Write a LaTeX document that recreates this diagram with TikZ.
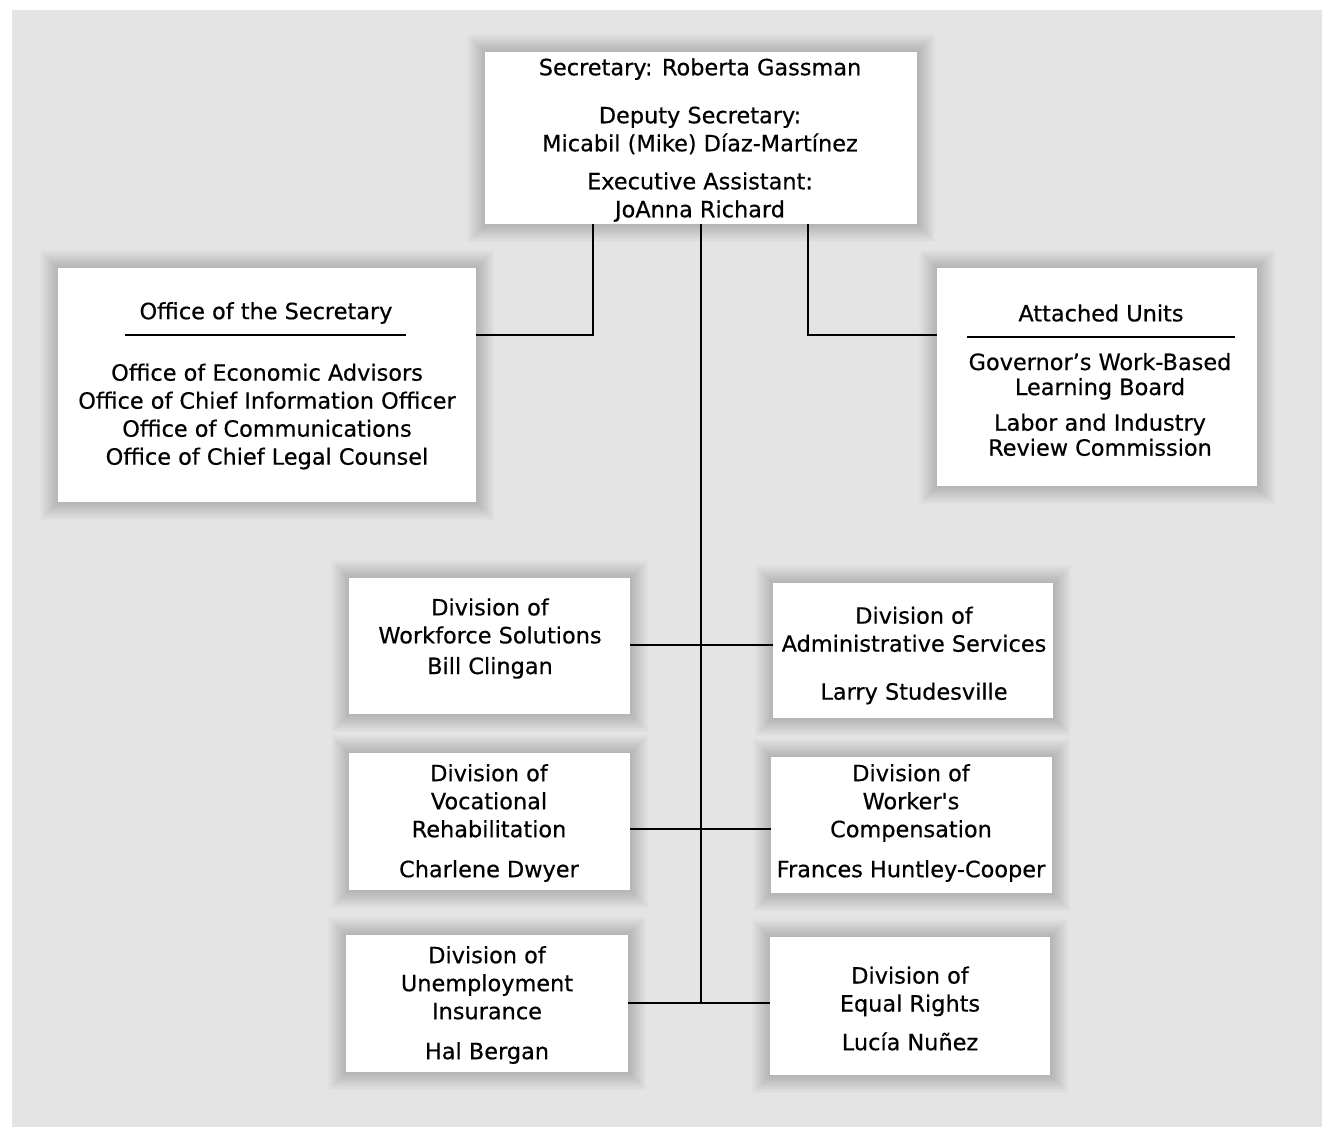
\documentclass[tikz,border=0pt]{standalone}
\usepackage{fontspec}
\setmainfont{DejaVu Sans}[FakeBold=0.5,Ligatures=TeXOff]
\definecolor{bg}{HTML}{E4E4E4}
\newcommand\orgbox[5]{%
  \foreach \k in {1,...,12}{\fill[black,opacity=0.016] (#2-\k*1.5,#3-\k*1.5) rectangle (#4+\k*1.5,#5+\k*1.5);}
  \node[box,minimum width={(#4-#2)*0.75pt},minimum height={(#5-#3)*0.75pt}] (#1) at (#2,#3) {};}
\begin{document}
\begin{tikzpicture}[x=0.75pt,y=-0.75pt,
  box/.style={draw=none,fill=white,inner sep=0pt,outer sep=0pt,anchor=north west},
  txt/.style={align=center,font=\fontsize{16.8}{21}\selectfont,inner sep=0pt},
  txtb/.style={align=center,font=\fontsize{16.8}{18.75}\selectfont,inner sep=0pt},
  wire/.style={line width=1.6pt,black},
  rulel/.style={line width=1.4pt,black}]
\useasboundingbox (0,0) rectangle (1335,1129);
\fill[white] (0,0) rectangle (1335,1129);
\fill[bg] (12,10) rectangle (1322,1127);

% boxes
\orgbox{top}{485}{52}{917}{224}
\orgbox{office}{58}{268}{476}{502}
\orgbox{attached}{937}{268}{1257}{486}
\orgbox{ws}{349}{578}{630}{714}
\orgbox{as}{773}{583}{1053}{718}
\orgbox{vr}{349}{753}{630}{890}
\orgbox{wc}{771}{757}{1052}{893}
\orgbox{ui}{346}{935}{628}{1072}
\orgbox{er}{770}{937}{1050}{1075}

% texts
\node[txt] (topT) at (700,140) {Secretary: Roberta Gassman\\[15pt]Deputy Secretary:\\Micabil (Mike) Díaz-Martínez\\[7.5pt]Executive Assistant:\\JoAnna Richard};
\node[txt] (officeH) at (266,313) {Office of the Secretary};
\draw[rulel] (125,335) -- (406,335);
\node[txt] (officeT) at (267,416.5) {Office of Economic Advisors\\Office of Chief Information Officer\\Office of Communications\\Office of Chief Legal Counsel};
\node[txt] (attachedH) at (1101,313) {Attached Units};
\draw[rulel] (967,337) -- (1235,337);
\node[txtb] (attachedT) at (1100,404.5) {Governor’s Work-Based\\Learning Board\\[8pt]Labor and Industry\\Review Commission};
\node[txt] (wsT) at (490,638.5) {Division of\\Workforce Solutions\\[2pt]Bill Clingan};
\node[txt] (asT) at (914,655.5) {Division of\\Administrative Services\\[15pt]Larry Studesville};
\node[txt] (vrT) at (489,823) {Division of\\Vocational\\Rehabilitation\\[9pt]Charlene Dwyer};
\node[txt] (wcT) at (911,823) {Division of\\Worker's\\Compensation\\[9pt]Frances Huntley-Cooper};
\node[txt] (uiT) at (487,1005) {Division of\\Unemployment\\Insurance\\[9pt]Hal Bergan};
\node[txt] (erT) at (910,1008.5) {Division of\\Equal Rights\\[8pt]Lucía Nuñez};

% connectors
\coordinate (jl) at (593,335);
\coordinate (jr) at (808,335);
\coordinate (spine) at (701,1003);
\coordinate (rowA) at (701,645);
\coordinate (rowB) at (701,829);
\draw[wire] (top.south -| jl) -- (jl) -- (office.east |- jl);
\draw[wire] (top.south -| jr) -- (jr) -- (attached.west |- jr);
\draw[wire] (top.south -| spine) -- (spine);
\draw[wire] (ws.east |- rowA) -- (as.west |- rowA);
\draw[wire] (vr.east |- rowB) -- (wc.west |- rowB);
\draw[wire] (ui.east |- spine) -- (er.west |- spine);
\end{tikzpicture}
\end{document}
